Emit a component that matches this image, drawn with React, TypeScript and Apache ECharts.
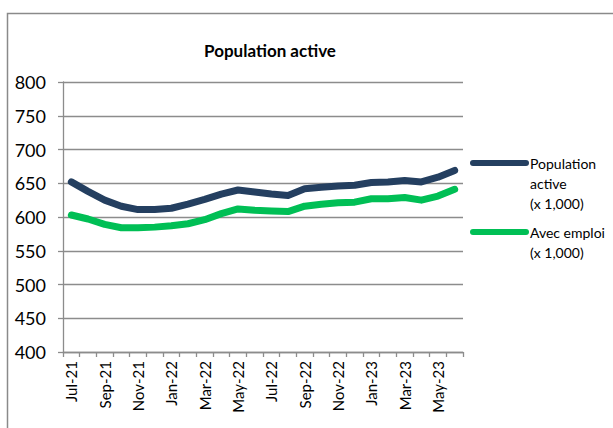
import React, { useEffect, useRef } from "react";
import * as echarts from "echarts";

const categories = [
  "Jul-21", "Aug-21", "Sep-21", "Oct-21", "Nov-21", "Dec-21",
  "Jan-22", "Feb-22", "Mar-22", "Apr-22", "May-22", "Jun-22",
  "Jul-22", "Aug-22", "Sep-22", "Oct-22", "Nov-22", "Dec-22",
  "Jan-23", "Feb-23", "Mar-23", "Apr-23", "May-23", "Jun-23",
];

const populationActive = [
  652, 638, 625, 616, 611, 611, 613, 619, 626, 634, 640, 637,
  634, 632, 642, 644, 646, 647, 651, 652, 654, 652, 659, 669,
];

const avecEmploi = [
  603, 597, 589, 584, 584, 585, 587, 590, 596, 605, 612, 610,
  609, 608, 616, 619, 621, 622, 627, 627, 629, 625, 631, 641,
];

const seriesNames = ["Population active (x 1,000)", "Avec emploi (x 1,000)"];
const legendLabels = ["Population\nactive\n(x 1,000)", "Avec emploi\n(x 1,000)"];
const seriesColors = ["#243F60", "#00BF55"];
const title = "Population active";

export default function App() {
  const ref = useRef<HTMLDivElement>(null);

  useEffect(() => {
    if (!ref.current) return;
    const chart = echarts.init(ref.current, undefined, { renderer: "svg" });
    const font = "Lato, 'Open Sans', sans-serif";
    const gray = "#8C8C8C";
    chart.setOption({
      animation: false,
      backgroundColor: "#ffffff",
      textStyle: { fontFamily: font, color: "#000" },
      title: {
        text: title,
        left: 265,
        top: 37,
        textAlign: "center",
        textStyle: { fontFamily: font, fontSize: 17, fontWeight: "bold", color: "#000" },
      },
      grid: { left: 63, right: 150, top: 82, bottom: 76, containLabel: false },
      xAxis: {
        type: "category",
        data: categories,
        boundaryGap: true,
        axisLine: { show: true, lineStyle: { color: gray, width: 1.3 } },
        axisTick: { show: true, interval: 0, length: 5, lineStyle: { color: gray, width: 1.3 } },
        axisLabel: {
          interval: 1,
          rotate: 90,
          margin: 9,
          fontFamily: font,
          fontSize: 15,
          color: "#000",
        },
        splitLine: { show: false },
      },
      yAxis: {
        type: "value",
        min: 400,
        max: 800,
        interval: 50,
        axisLine: { show: true, lineStyle: { color: gray, width: 1.3 } },
        axisTick: { show: true, length: 5, lineStyle: { color: gray, width: 1.3 } },
        axisLabel: { margin: 17, fontFamily: font, fontSize: 18, color: "#000" },
        splitLine: { show: true, lineStyle: { color: gray, width: 1.3 } },
      },
      series: [
        {
          name: seriesNames[0],
          type: "line",
          data: populationActive,
          showSymbol: false,
          smooth: false,
          lineStyle: { color: seriesColors[0], width: 7, cap: "round", join: "round" },
          itemStyle: { color: seriesColors[0] },
        },
        {
          name: seriesNames[1],
          type: "line",
          data: avecEmploi,
          showSymbol: false,
          smooth: false,
          lineStyle: { color: seriesColors[1], width: 7, cap: "round", join: "round" },
          itemStyle: { color: seriesColors[1] },
        },
      ],
      graphic: [
        {
          type: "rect",
          shape: { x: 7.5, y: 13.5, width: 800, height: 600 },
          style: { fill: "none", stroke: "#8A8A8A", lineWidth: 1.5 },
          silent: true,
        },
        {
          type: "line",
          shape: { x1: 473, y1: 163, x2: 526, y2: 163 },
          style: { stroke: seriesColors[0], lineWidth: 6, lineCap: "round" },
        },
        {
          type: "text",
          x: 530,
          y: 153,
          style: {
            text: legendLabels[0],
            fontFamily: font,
            fontSize: 14,
            lineHeight: 20,
            fill: "#000",
            verticalAlign: "top",
          },
        },
        {
          type: "line",
          shape: { x1: 473, y1: 232, x2: 526, y2: 232 },
          style: { stroke: seriesColors[1], lineWidth: 6, lineCap: "round" },
        },
        {
          type: "text",
          x: 530,
          y: 222,
          style: {
            text: legendLabels[1],
            fontFamily: font,
            fontSize: 14,
            lineHeight: 20,
            fill: "#000",
            verticalAlign: "top",
          },
        },
      ],
    });
    return () => chart.dispose();
  }, []);

  return (
    <div
      ref={ref}
      style={{ position: "fixed", left: 0, top: 0, width: 613, height: 428 }}
    />
  );
}
